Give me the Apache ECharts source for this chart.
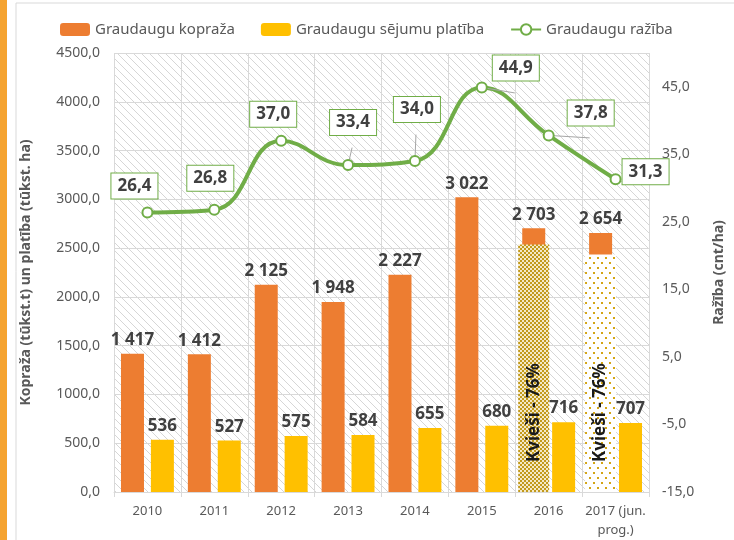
<!DOCTYPE html>
<html>
<head>
<meta charset="utf-8">
<script src="https://cdn.jsdelivr.net/npm/echarts@6/dist/echarts.min.js"></script>
<style>
  html, body { margin: 0; padding: 0; background: #fff; }
  #chart { width: 734px; height: 540px; }
</style>
</head>
<body>
<div id="chart"></div>
<script>
// dati
const years = ["2010", "2011", "2012", "2013", "2014", "2015", "2016", "2017 (jun.\nprog.)"];
const kopraza = [1417, 1412, 2125, 1948, 2227, 3022, 2703, 2654];
const platiba = [536, 527, 575, 584, 655, 680, 716, 707];
const raziba = [26.4, 26.8, 37.0, 33.4, 34.0, 44.9, 37.8, 31.3];
// kviešu daļa (2016, 2017)
const kviesiIdx = [6, 7];
const kviesiValues = [2536, 2434];
const kviesiText = ["Kvieši - 76%", "Kvieši - 76%"];

const font = '"Noto Sans", sans-serif';
const grey = "#595959";
const dark = "#404040";

// raštu flīzes
const makeTile = (w, h, draw) => {
	const c = document.createElement("canvas");
	c.width = w;
	c.height = h;
	draw(c.getContext("2d"));
	return { image: c, repeat: "repeat" };
};

const hatch = makeTile(8, 8, (g) => {
	g.fillStyle = "#ffffff";
	g.fillRect(0, 0, 8, 8);
	g.strokeStyle = "#d6d6d6";
	g.lineWidth = 1;
	g.beginPath();
	g.moveTo(-2, -2); g.lineTo(10, 10);
	g.moveTo(-10, -2); g.lineTo(2, 10);
	g.moveTo(6, -2); g.lineTo(18, 10);
	g.stroke();
});

const dense = makeTile(4, 4, (g) => {
	g.fillStyle = "#f4e9c8";
	g.fillRect(0, 0, 4, 4);
	g.fillStyle = "#c29a1c";
	g.fillRect(0, 0, 2, 2);
	g.fillRect(2, 2, 2, 2);
});

const sparse = makeTile(8, 10, (g) => {
	g.fillStyle = "#ffffff";
	g.fillRect(0, 0, 8, 10);
	g.fillStyle = "#d4a514";
	g.fillRect(1, 2, 2, 2);
	g.fillRect(5, 7, 2, 2);
});
const kviesiFill = [dense, sparse];

// ražības etiķešu nobīdes un vai rādīt vadlīniju
const labelOffsets = [[-13, -3], [-4, -8], [-8, -3], [5, -19], [2, -28], [34, 4], [42, 1], [30, 16]];
const labelLines = [false, true, false, true, true, true, true, false];

const fmtThousands = (v) =>
	v >= 1000 ? Math.floor(v / 1000) + " " + String(v % 1000).padStart(3, "0") : String(v);
const fmtComma = (v) => v.toFixed(1).replace(".", ",");

const myChart = echarts.init(document.querySelector("#chart"));

myChart.setOption({
	animation: false,
	textStyle: { fontFamily: font },
	graphic: [
		{ type: "rect", left: 0, top: 0, shape: { width: 7, height: 540 }, style: { fill: "#f5a331" } },
		{ type: "line", shape: { x1: 16, y1: 3, x2: 16, y2: 540 }, style: { stroke: "#d9d9d9", lineWidth: 1 } },
		{ type: "line", shape: { x1: 16, y1: 3, x2: 734, y2: 3 }, style: { stroke: "#d9d9d9", lineWidth: 1 } },
	],
	legend: {
		left: 55,
		top: 17,
		itemWidth: 30,
		itemHeight: 13,
		itemGap: 26,
		textStyle: { fontSize: 15, color: grey, fontFamily: font },
		data: ["Graudaugu kopraža", "Graudaugu sējumu platība", "Graudaugu ražība"],
	},
	grid: {
		left: 114,
		right: 79,
		top: 53,
		bottom: 47,
		show: true,
		borderWidth: 0,
		backgroundColor: hatch,
	},
	xAxis: {
		type: "category",
		data: years,
		axisLine: { lineStyle: { color: "#d9d9d9" } },
		axisTick: { show: true, length: 5, lineStyle: { color: "#d9d9d9" } },
		splitLine: { show: true, lineStyle: { color: "#d9d9d9" } },
		axisLabel: { color: grey, fontSize: 13, margin: 10, lineHeight: 19, interval: 0 },
	},
	yAxis: [
		{
			type: "value",
			min: 0,
			max: 4500,
			interval: 500,
			name: "Kopraža (tūkst.t) un platība (tūkst. ha)",
			nameLocation: "middle",
			nameRotate: 90,
			nameGap: 81,
			nameTextStyle: { color: grey, fontSize: 14, fontWeight: "bold" },
			axisLine: { show: false },
			axisTick: { show: false },
			splitLine: { lineStyle: { color: "#d9d9d9" } },
			axisLabel: { color: grey, fontSize: 14, margin: 14, formatter: fmtComma },
		},
		{
			type: "value",
			min: -15,
			max: 50,
			interval: 10,
			position: "right",
			name: "Ražība (cnt/ha)",
			nameLocation: "middle",
			nameRotate: 90,
			nameGap: 63,
			nameTextStyle: { color: grey, fontSize: 14, fontWeight: "bold" },
			axisLine: { show: false },
			axisTick: { show: false },
			splitLine: { show: false },
			axisLabel: { color: grey, fontSize: 14, margin: 13, showMaxLabel: false, formatter: fmtComma },
		},
	],
	series: [
		{
			name: "Graudaugu kopraža",
			type: "bar",
			barWidth: 23,
			barGap: "30%",
			data: kopraza,
			itemStyle: { color: "#ed7d31" },
			label: {
				show: true,
				position: "top",
				distance: 5,
				color: dark,
				fontSize: 17,
				fontWeight: "bold",
				formatter: (p) => fmtThousands(p.value),
			},
		},
		{
			name: "Graudaugu sējumu platība",
			type: "bar",
			barWidth: 23,
			barGap: "30%",
			data: platiba,
			itemStyle: { color: "#ffc000" },
			label: {
				show: true,
				position: "top",
				distance: 5,
				color: dark,
				fontSize: 17,
				fontWeight: "bold",
			},
		},
		{
			// kviešu daļa kā rakstaina josla virs kopražas stabiņa
			type: "custom",
			z: 3,
			data: kviesiIdx.map((idx, i) => [idx, kviesiValues[i], i]),
			encode: { x: 0, y: 1 },
			renderItem: (params, api) => {
				const top = api.coord([api.value(0), api.value(1)]);
				const base = api.coord([api.value(0), 0]);
				const cx = top[0] - 15;
				const w = 31;
				const i = api.value(2);
				return {
					type: "group",
					children: [
						{
							type: "rect",
							shape: { x: cx - w / 2, y: top[1], width: w, height: base[1] - top[1] },
							style: { fill: kviesiFill[i] },
						},
						{
							type: "text",
							x: cx,
							y: base[1] - 30,
							rotation: Math.PI / 2,
							style: {
								text: kviesiText[i],
								font: 'bold 17px "Noto Sans"',
								fill: "#1a1a1a",
								align: "left",
								verticalAlign: "middle",
							},
						},
					],
				};
			},
		},
		{
			name: "Graudaugu ražība",
			type: "line",
			yAxisIndex: 1,
			z: 5,
			smooth: 0.45,
			symbol: "circle",
			symbolSize: 10,
			lineStyle: { color: "#70ad47", width: 4 },
			itemStyle: { color: "#ffffff", borderColor: "#70ad47", borderWidth: 2 },
			data: raziba.map((v, i) => ({
				value: v,
				label: { offset: labelOffsets[i] },
				labelLine: { show: labelLines[i] },
			})),
			label: {
				show: true,
				position: "top",
				distance: 5,
				color: dark,
				fontSize: 17,
				fontWeight: "bold",
				backgroundColor: "#ffffff",
				borderColor: "#70ad47",
				borderWidth: 1,
				padding: [4, 6, 4, 6],
				formatter: (p) => fmtComma(p.value),
			},
			labelLine: { lineStyle: { color: "#a6a6a6", width: 1 } },
		},
	],
});
</script>
</body>
</html>
